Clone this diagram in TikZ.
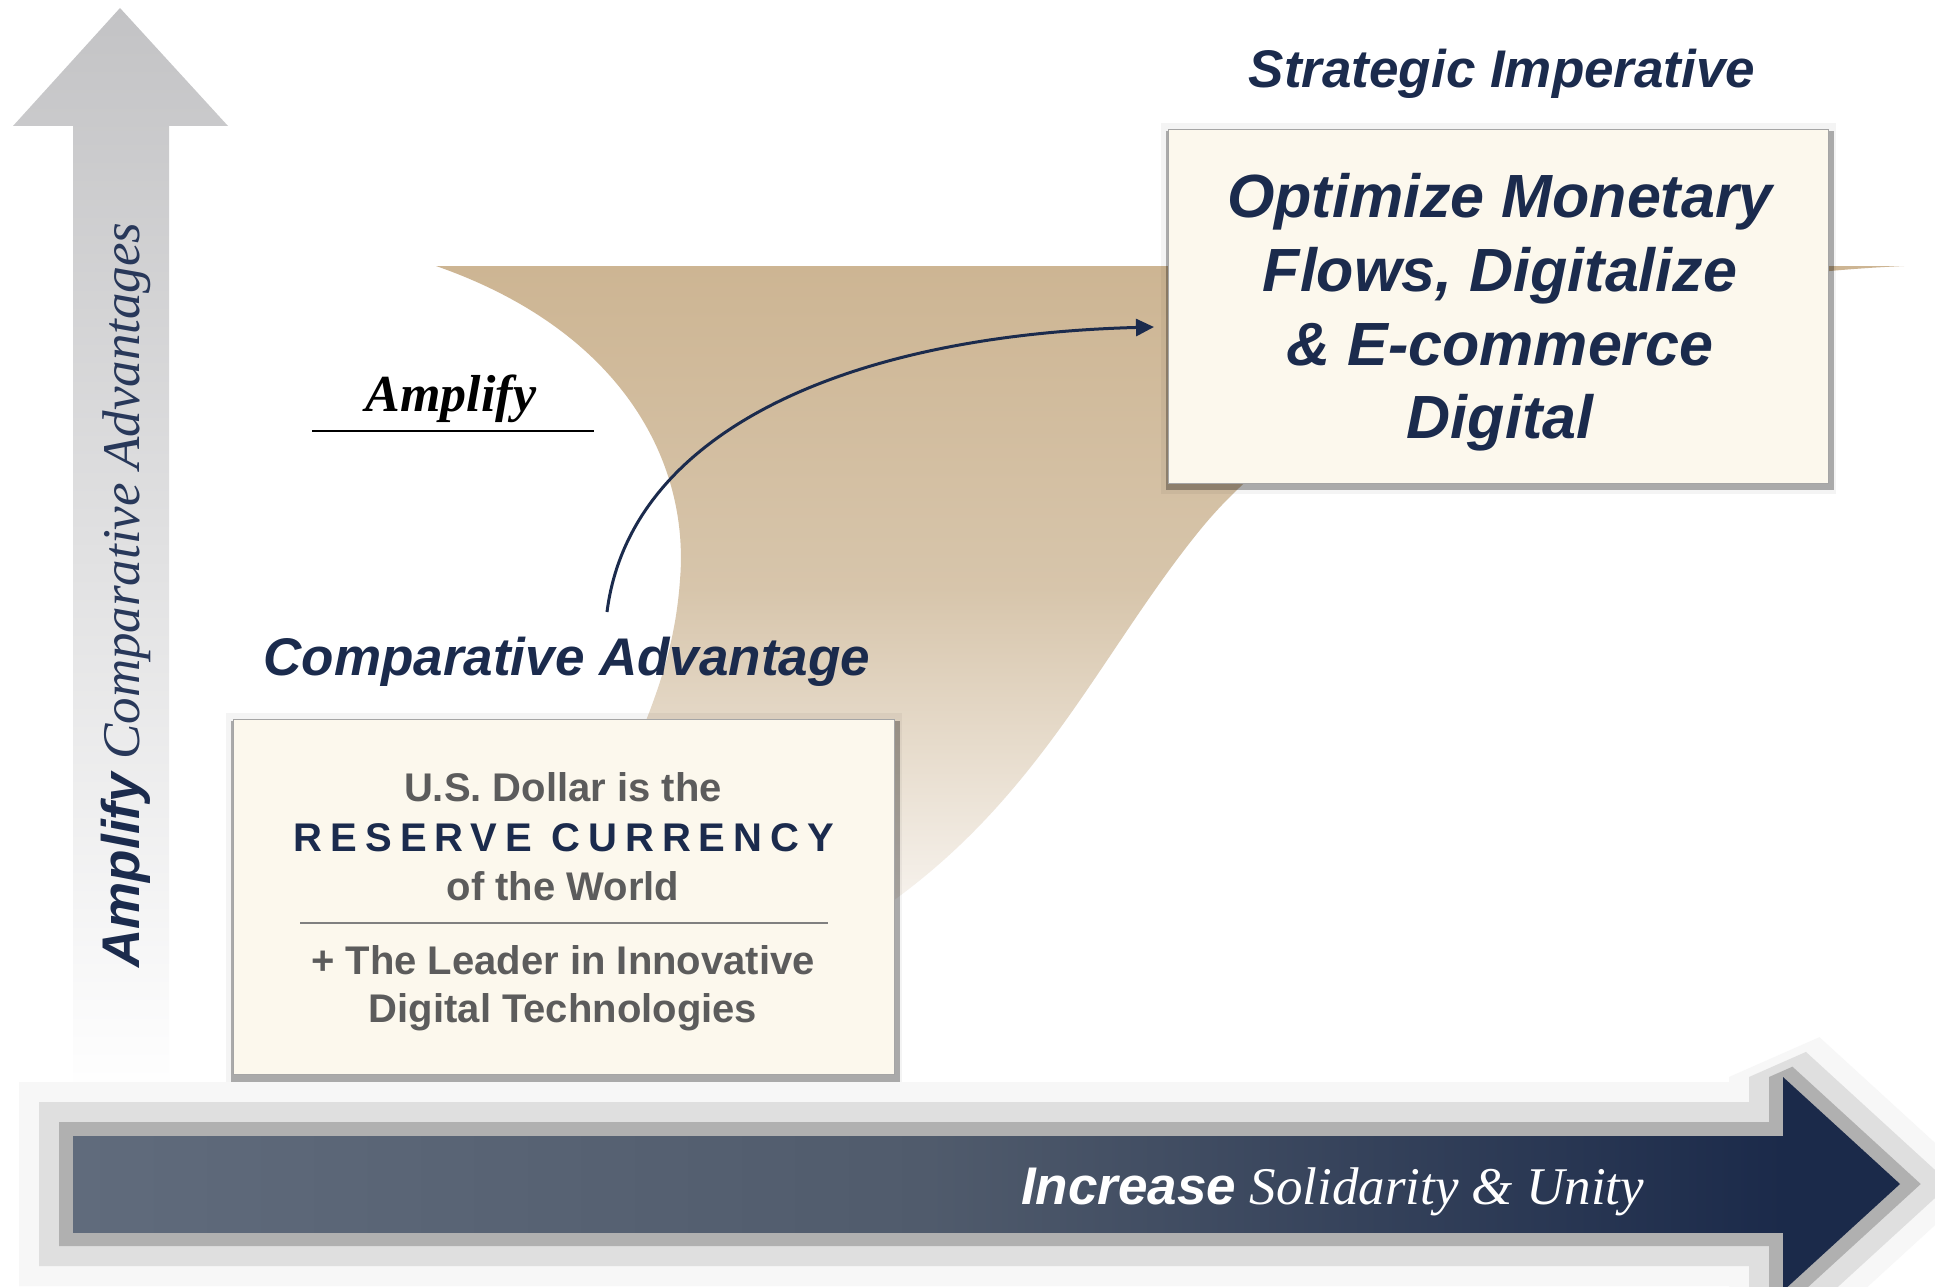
\documentclass[tikz,border=0pt]{standalone}
\usepackage{fontspec}
\setmainfont{Liberation Serif}
\setsansfont{Liberation Sans}
\newfontfamily\spacedsans[LetterSpace=20]{Liberation Sans}
\usetikzlibrary{arrows.meta}
\definecolor{navy}{RGB}{27,43,77}
\definecolor{navysoft}{RGB}{40,56,90}
\definecolor{boxfill}{RGB}{252,248,237}
\definecolor{boxline}{RGB}{165,165,165}
\definecolor{greytext}{RGB}{92,92,92}
\definecolor{tantop}{RGB}{205,181,147}
\definecolor{tanmid}{RGB}{215,197,171}
\definecolor{tanbot}{RGB}{247,243,238}
\definecolor{arrowleft}{RGB}{96,107,124}
\definecolor{arrowmid}{RGB}{80,91,108}
\definecolor{arrowright}{RGB}{27,42,74}
\definecolor{vgray}{RGB}{195,195,197}
\definecolor{shA}{RGB}{247,247,247}
\definecolor{shB}{RGB}{223,223,223}
\definecolor{shC}{RGB}{176,176,176}
\tikzset{
  bigsans/.style={font=\sffamily\bfseries\itshape\fontsize{53}{64}\selectfont, text=navy, inner sep=0},
  boxsans/.style={font=\sffamily\bfseries\itshape\fontsize{61}{73}\selectfont, text=navy, inner sep=0},
  graysans/.style={font=\sffamily\bfseries\fontsize{40}{48}\selectfont, text=greytext, inner sep=0},
  paper/.style={draw=boxline, line width=1.2, fill=boxfill, inner sep=0},
  shadowband/.style={line join=miter, miter limit=1.5},
}
\begin{document}
\begin{tikzpicture}[x=1pt,y=-1pt]
\useasboundingbox (0,0) rectangle (1935,1287);
\fill[white] (0,0) rectangle (1935,1287);

% vertical arrow
\shade[top color=vgray, bottom color=white] (120,8) -- (228,126) -- (169,126) -- (169,1100) -- (73,1100) -- (73,126) -- (13,126) -- cycle;
\node[rotate=90, anchor=base, inner sep=0, text=navy, font=\fontsize{53}{64}\selectfont] (vlabel) at (139,595)
  {{\sffamily\bfseries\itshape Amplify} {\itshape\color{navysoft}Comparative Advantages}};

% tan shape
\shade[top color=tantop, bottom color=tanbot, middle color=tanmid]
  (436,266) -- (1904,266) .. controls (1600,280) and (1330,370) .. (1200,530)
  .. controls (1100,653) and (1040,800) .. (880,910) -- (630,760)
  .. controls (655,700) and (675,650) .. (680,580)
  .. controls (690,460) and (620,330) .. (436,266) -- cycle;

% Amplify label
\node[anchor=base, inner sep=0, font=\rmfamily\bfseries\itshape\fontsize{52}{60}\selectfont] (amp) at (451,411) {Amplify};
\draw[line width=2.5] (312,431) -- (594,431);

% titles
\node[bigsans, anchor=base] (catitle) at (567,675) {Comparative Advantage};
\node[bigsans, anchor=base] (sititle) at (1502,88) {Strategic Imperative};

% right box
\fill[black, opacity=0.045] (1161,123) rectangle (1836,494);
\fill[black, opacity=0.30] (1166,131) rectangle (1834,490);
\node[paper, minimum width=660, minimum height=354, anchor=north west] (imp) at (1168,129) {};
\node[boxsans, anchor=base] (impA) at (1500,217) {Optimize Monetary};
\node[boxsans, anchor=base] (impB) at (1500,291) {Flows, Digitalize};
\node[boxsans, anchor=base] (impC) at (1500,365) {\& E-commerce};
\node[boxsans, anchor=base] (impD) at (1500,438) {Digital};

% curved arrow
\coordinate (arrstart) at (607,612);
\coordinate (arrend) at (1154,327);
\draw[navy, line width=3, -{Triangle[length=18,width=17]}] (arrstart) .. controls (630,430) and (850,335) .. (arrend);

% left box
\fill[black, opacity=0.045] (226,713) rectangle (902,1088);
\fill[black, opacity=0.30] (231,721) rectangle (900,1084);
\node[paper, minimum width=661, minimum height=355, anchor=north west] (adv) at (233,719) {};
\node[graysans, anchor=base] (advA) at (563,801) {U.S. Dollar is the};
\node[anchor=base, inner sep=0, text=navy, font=\spacedsans\bfseries\fontsize{40}{48}\selectfont] (advB) at (564,851) {RESERVE CURRENCY};
\node[graysans, anchor=base] (advC) at (563,900) {of the World};
\draw[gray, line width=1.2] (300,923) -- (828,923);
\node[graysans, anchor=base] (advD) at (563,974) {+ The Leader in Innovative};
\node[graysans, anchor=base] (advE) at (563,1022) {Digital Technologies};

% horizontal arrow shadow
\draw[shA, line width=108, shadowband] (73,1136) -- (1783,1136) -- (1783,1077) -- (1900,1184) -- (1783,1291) -- (1783,1232) -- (73,1232) -- cycle;
\draw[shB, line width=68, shadowband] (73,1136) -- (1783,1136) -- (1783,1077) -- (1900,1184) -- (1783,1291) -- (1783,1232) -- (73,1232) -- cycle;
\draw[shC, line width=28, shadowband] (73,1136) -- (1783,1136) -- (1783,1077) -- (1900,1184) -- (1783,1291) -- (1783,1232) -- (73,1232) -- cycle;
% horizontal arrow body
\shade[left color=arrowleft, right color=arrowright, middle color=arrowmid] (73,1136) rectangle (1784,1232);
\fill[arrowright] (1783,1077) -- (1900,1184) -- (1783,1291) -- cycle;
\node[anchor=base west, inner sep=0, text=white, font=\fontsize{53}{64}\selectfont] (hlabel) at (1021,1204)
  {{\sffamily\bfseries\itshape Increase} {\itshape Solidarity \& Unity}};
\end{tikzpicture}
\end{document}
